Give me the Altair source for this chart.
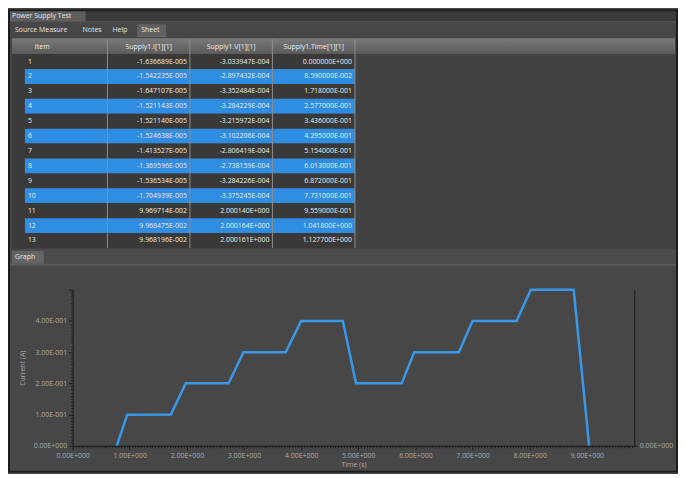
import json
import altair as alt
import pandas as pd

W, H = 674, 466
FONT = "Open Sans"

# ---------------- data ----------------
rows = [1, 2, 3, 4, 5, 6, 7, 8, 9, 10, 11, 12, 13]
headers = ["Item", "Supply1.I[1][1]", "Supply1.V[1][1]", "Supply1.Time[1][1]"]
supply_i = ["-1.636689E-005", "-1.542235E-005", "-1.647107E-005", "-1.521143E-005",
            "-1.521140E-005", "-1.524638E-005", "-1.413527E-005", "-1.369596E-005",
            "-1.536534E-005", "-1.704939E-005", "9.969714E-002", "9.968475E-002",
            "9.968196E-002"]
supply_v = ["-3.033947E-004", "-2.897432E-004", "-3.352484E-004", "-3.284229E-004",
            "-3.215972E-004", "-3.102206E-004", "-2.806419E-004", "-2.738159E-004",
            "-3.284226E-004", "-3.375245E-004", "2.000140E+000", "2.000164E+000",
            "2.000161E+000"]
supply_t = ["0.000000E+000", "8.590000E-002", "1.718000E-001", "2.577000E-001",
            "3.436000E-001", "4.295000E-001", "5.154000E-001", "6.013000E-001",
            "6.872000E-001", "7.731000E-001", "9.559000E-001", "1.041800E+000",
            "1.127700E+000"]

graph_time = [0.7731, 0.9559, 1.72, 1.98, 2.73, 2.99, 3.73, 4.0, 4.73, 4.96,
              5.76, 5.98, 6.76, 7.0, 7.77, 8.02, 8.77, 9.04]
graph_current = [0.0, 0.0997, 0.1, 0.2, 0.2, 0.3, 0.3, 0.4, 0.4, 0.2,
                 0.2, 0.3, 0.3, 0.4, 0.4, 0.5, 0.5, 0.0]

x_tick_labels = ["0.00E+000", "1.00E+000", "2.00E+000", "3.00E+000", "4.00E+000",
                 "5.00E+000", "6.00E+000", "7.00E+000", "8.00E+000", "9.00E+000"]
y_tick_labels = ["0.00E+000", "1.00E-001", "2.00E-001", "3.00E-001", "4.00E-001"]
right_tick_labels = ["0.00E+000"]

# ---------------- chrome helpers ----------------
one = pd.DataFrame({"k": [0]})


def box(x, y, x2, y2, fill, **kw):
    return alt.Chart(one).mark_rect(fill=fill, **kw).encode(
        x=alt.value(x), x2=alt.value(x2), y=alt.value(y), y2=alt.value(y2))


def label(txt, x, y, color="#e4e4e4", size=7, align="left"):
    return alt.Chart(one).mark_text(text=txt, align=align, baseline="middle",
                                    color=color, fontSize=size, font=FONT).encode(
        x=alt.value(x), y=alt.value(y))


header_grad = {"gradient": "linear", "x1": 0, "y1": 0, "x2": 0, "y2": 1,
               "stops": [{"offset": 0, "color": "#7a7a7a"},
                         {"offset": 1, "color": "#5a5a5a"}]}

chrome_bottom = [
    box(0, 0, W, 12, "#3a3a3a"),
    box(2, 1, 78, 12, "#5e5e5e"),
    label("Power Supply Test", 4, 6.5),
    box(0, 12, W, 13, "#585858"),
    box(0, 13, W, 29, "#474747"),
    box(130, 15, 159, 28, "#626262"),
    label("Source Measure", 7, 21),
    label("Notes", 75, 21),
    label("Help", 105, 21),
    label("Sheet", 134, 21),
    box(4, 29, W - 3, 45, header_grad),
    box(4, 45, W - 3, 241, "#424242"),
    box(4, 45, 17, 241, "#3b3b3b"),
    box(0, 241, W, 256, "#4b4b4b"),
    box(4, 243, 36, 256, "#646464"),
    label("Graph", 7, 249.5),
    box(0, 256, W, 258, "#5c5c5c"),
    box(0, 258, W, H, "#474747"),
]
chrome_top = [
    alt.Chart(one).mark_rect(fillOpacity=0, stroke="#1c1c1c", strokeWidth=2).encode(
        x=alt.value(1), x2=alt.value(W - 1), y=alt.value(1), y2=alt.value(H - 1)),
]

# ---------------- table ----------------
cells = []
for r in rows:
    vals = [str(r), supply_i[r - 1], supply_v[r - 1], supply_t[r - 1]]
    for c, v in zip(headers, vals):
        cells.append({"row": r, "col": c, "txt": v,
                      "band": "even" if r % 2 == 0 else "odd"})
for c in headers:
    cells.append({"row": 0, "col": c, "txt": c, "band": "head"})
tbl = pd.DataFrame(cells)

xs = alt.Scale(domain=headers, range=[17, 349], paddingInner=0, paddingOuter=0)
ys = alt.Scale(domain=list(range(0, 14)), range=[30, 240], paddingInner=0, paddingOuter=0)

base = alt.Chart(tbl)
cell_bg = base.transform_filter("datum.row > 0").mark_rect().encode(
    x=alt.X("col:N", scale=xs, axis=None),
    y=alt.Y("row:O", scale=ys, axis=None),
    color=alt.Color("band:N", scale=alt.Scale(domain=["odd", "even"],
                                              range=["#3a3937", "#2f8de4"]), legend=None),
)
seps = base.transform_filter("datum.row == 0").mark_rule(color="#8e8e8e", strokeWidth=1).encode(
    x=alt.X("col:N", scale=xs, axis=None, bandPosition=1),
    y=alt.value(30), y2=alt.value(240),
)
txt_kw = dict(baseline="middle", fontSize=7, font=FONT, color="#ececec")
item_txt = base.transform_filter("datum.row > 0 && datum.col == 'Item'").mark_text(
    align="left", dx=3, **txt_kw).encode(
    x=alt.X("col:N", scale=xs, axis=None, bandPosition=0),
    y=alt.Y("row:O", scale=ys, axis=None), text="txt:N")
val_txt = base.transform_filter("datum.row > 0 && datum.col != 'Item'").mark_text(
    align="right", dx=-3, **txt_kw).encode(
    x=alt.X("col:N", scale=xs, axis=None, bandPosition=1),
    y=alt.Y("row:O", scale=ys, axis=None), text="txt:N")
head_item = base.transform_filter("datum.row == 0 && datum.col == 'Item'").mark_text(
    align="left", dx=10, **txt_kw).encode(
    x=alt.X("col:N", scale=xs, axis=None, bandPosition=0),
    y=alt.Y("row:O", scale=ys, axis=None), text="txt:N")
head_txt = base.transform_filter("datum.row == 0 && datum.col != 'Item'").mark_text(
    align="center", **txt_kw).encode(
    x=alt.X("col:N", scale=xs, axis=None, bandPosition=0.5),
    y=alt.Y("row:O", scale=ys, axis=None), text="txt:N")

table = alt.layer(cell_bg, seps, item_txt, val_txt, head_item, head_txt)

# ---------------- graph ----------------
gdf = pd.DataFrame({"t": graph_time, "i": graph_current})
gx = alt.Scale(domain=[0, 9.83], range=[65, 630], nice=False, zero=False)
gy = alt.Scale(domain=[0, 0.5], range=[439, 282], nice=False)

AX = "#1b1b1b"
LBL = "#a9a9a9"
x_vals = [round(k * 0.05, 2) for k in range(0, 197)]
y_vals = [round(k * 0.01, 2) for k in range(0, 51)]
x_major = "abs(datum.value - round(datum.value)) < 0.001"
y_major = "abs(datum.value * 10 - round(datum.value * 10)) < 0.001"

x_axis = alt.Axis(
    orient="bottom", values=x_vals, offset=439 - H, grid=False, zindex=1,
    labelExpr=f"{x_major} ? {json.dumps(x_tick_labels)}[round(datum.value)] : ''",
    labelOverlap=False, labelFlush=False, labelPadding=2,
    tickSize={"condition": {"test": x_major, "value": 4}, "value": 2},
    domainColor=AX, tickColor=AX, labelColor=LBL, labelFontSize=7, labelFont=FONT,
    title="Time (s)", titleFontSize=7, titleFont=FONT, titleColor=LBL,
    titleFontWeight="normal", titlePadding=2,
)
y_axis = alt.Axis(
    values=y_vals, offset=-65, grid=False, zindex=1,
    labelExpr=f"{y_major} && round(datum.value * 10) < 5 ? {json.dumps(y_tick_labels)}[round(datum.value * 10)] : ''",
    labelOverlap=False, labelFlush=False, labelPadding=2,
    tickSize={"condition": {"test": y_major, "value": 4}, "value": 2},
    domainColor=AX, tickColor=AX, labelColor=LBL, labelFontSize=7, labelFont=FONT,
    title="Current (A)", titleFontSize=7, titleFont=FONT, titleColor=LBL,
    titleFontWeight="normal", titleX=-47,
)
r_axis = alt.Axis(
    orient="right", values=[0], offset=630 - W, grid=False, zindex=1,
    labelExpr=f"{json.dumps(right_tick_labels)}[0]",
    labelOverlap=False, labelFlush=False, labelPadding=2, tickSize=3,
    domainColor=AX, tickColor=AX, labelColor=LBL, labelFontSize=7, labelFont=FONT,
    title=None,
)

line = alt.Chart(gdf).mark_line(color="#3a98ea", strokeWidth=2.5).encode(
    x=alt.X("t:Q", scale=gx, axis=x_axis, title="Time (s)"),
    y=alt.Y("i:Q", scale=gy, axis=y_axis),
)
right = alt.Chart(gdf).mark_point(opacity=0).encode(
    x=alt.X("t:Q", scale=gx, axis=x_axis, title="Time (s)"),
    y=alt.Y("i:Q", scale=gy, axis=r_axis),
)
graph = alt.layer(line, right).resolve_axis(y="independent")

chart = alt.layer(*chrome_bottom, table, graph, *chrome_top).resolve_scale(
    x="independent", y="independent"
).properties(
    width=W, height=H, autosize=alt.AutoSizeParams(type="none"), padding=0
).configure(background="#454545").configure_view(stroke=None)

chart.save("out.html", embed_options={"renderer": "svg", "actions": False})
